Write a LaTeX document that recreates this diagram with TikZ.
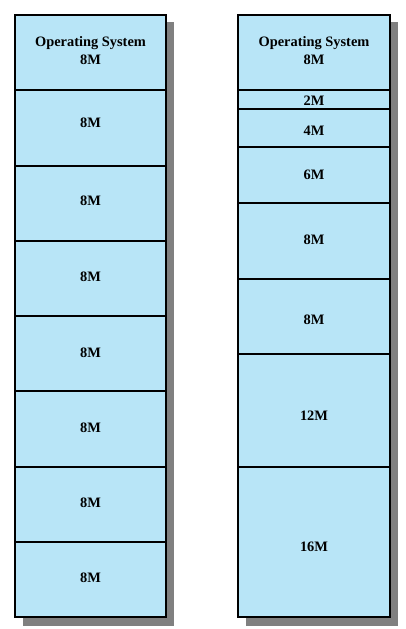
\documentclass[tikz,border=0pt]{standalone}
\usepackage{fontspec}
\setmainfont{Liberation Serif}
\definecolor{memfill}{RGB}{184,229,247}
\definecolor{shadowgray}{RGB}{128,128,128}
\begin{document}
\begin{tikzpicture}[x=1pt,y=-1pt,
  part/.style={draw=black,line width=1.7pt,fill=memfill,inner sep=0pt,outer sep=0pt,anchor=north west,minimum width=151pt},
  shade/.style={fill=shadowgray,draw=none},
  lbl/.style={font=\fontsize{14.4}{18}\selectfont\bfseries,inner sep=0pt,align=center,anchor=center}]
\useasboundingbox (0,0) rectangle (405,629);
% shadows
\path[shade] (23,22) rectangle (174,626);
\path[shade] (246,22) rectangle (398,626);
% left column: equal-size partitions
\node[part,minimum height=75pt] (L0) at (15,15) {};
\node[part,minimum height=76pt] (L1) at (15,90) {};
\node[part,minimum height=75pt] (L2) at (15,166) {};
\node[part,minimum height=75pt] (L3) at (15,241) {};
\node[part,minimum height=75pt] (L4) at (15,316) {};
\node[part,minimum height=76pt] (L5) at (15,391) {};
\node[part,minimum height=75pt] (L6) at (15,467) {};
\node[part,minimum height=75pt] (L7) at (15,542) {};
% right column: unequal-size partitions
\node[part,minimum width=152pt,minimum height=75pt] (R0) at (238,15) {};
\node[part,minimum width=152pt,minimum height=19pt] (R1) at (238,90) {};
\node[part,minimum width=152pt,minimum height=38pt] (R2) at (238,109) {};
\node[part,minimum width=152pt,minimum height=56pt] (R3) at (238,147) {};
\node[part,minimum width=152pt,minimum height=76pt] (R4) at (238,203) {};
\node[part,minimum width=152pt,minimum height=75pt] (R5) at (238,279) {};
\node[part,minimum width=152pt,minimum height=113pt] (R6) at (238,354) {};
\node[part,minimum width=152pt,minimum height=150pt] (R7) at (238,467) {};
% labels
\node[lbl] (tL0) at (90.5,51) {Operating System\\8M};
\node[lbl] (tL1) at (90.5,122.3) {8M};
\node[lbl] (tL2) at (90.5,201) {8M};
\node[lbl] (tL3) at (90.5,277) {8M};
\node[lbl] (tL4) at (90.5,353) {8M};
\node[lbl] (tL5) at (90.5,428) {8M};
\node[lbl] (tL6) at (90.5,503) {8M};
\node[lbl] (tL7) at (90.5,578) {8M};
\node[lbl] (tR0) at (314,51) {Operating System\\8M};
\node[lbl] (tR1) at (314,100.5) {2M};
\node[lbl] (tR2) at (314,130.5) {4M};
\node[lbl] (tR3) at (314,175) {6M};
\node[lbl] (tR4) at (314,239.3) {8M};
\node[lbl] (tR5) at (314,319.3) {8M};
\node[lbl] (tR6) at (314,415.7) {12M};
\node[lbl] (tR7) at (314,546.7) {16M};
\end{tikzpicture}
\end{document}
